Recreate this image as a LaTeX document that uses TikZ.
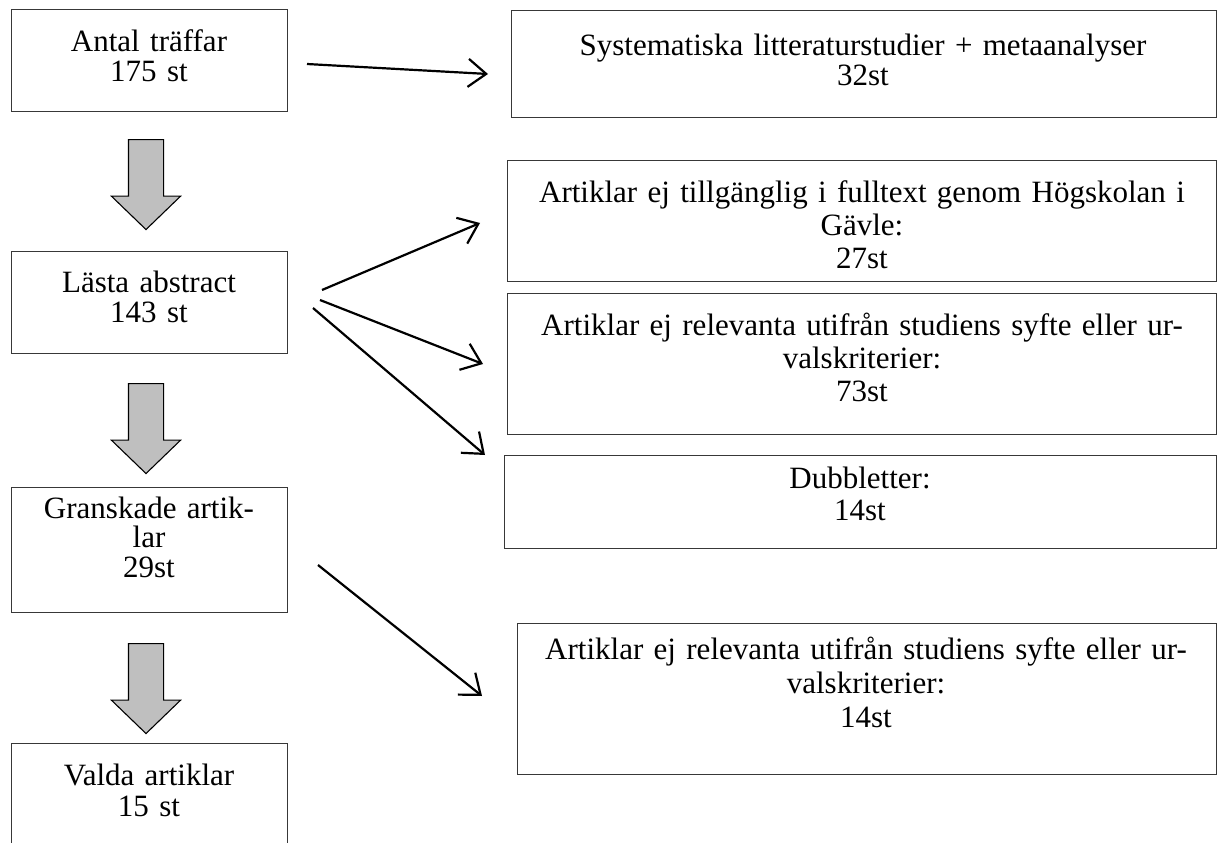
\documentclass[tikz,border=0pt]{standalone}
\usepackage{fontspec}
\setmainfont{Liberation Serif}
\usetikzlibrary{arrows.meta,shapes.arrows}
\begin{document}
\begin{tikzpicture}[x=1pt,y=-1pt,
  box/.style={draw=black!78, line width=1.3pt, rectangle, inner sep=0pt, anchor=north west},
  ltxt/.style={anchor=base, align=center, inner sep=0pt, text width=276pt, font=\fontsize{31}{#1}\selectfont},
  rtxt/.style={anchor=base, align=center, inner sep=0pt, text width=705pt, font=\fontsize{31}{#1}\selectfont},
  flow/.style={draw=black, line width=2.2pt, -{Straight Barb[length=18pt,width=28pt]}},
  blockarrow/.style={single arrow, draw=black, line width=1.1pt, fill=black!25, rotate=-90,
    minimum height=90pt, single arrow head extend=17pt, single arrow tip angle=92,
    single arrow head indent=0pt, inner sep=17pt, anchor=tail}
]
\clip (0,0) rectangle (1219,843);
% left column boxes
\node[box, minimum width=276pt, minimum height=102pt] (A) at (11,9) {};
\node[box, minimum width=276pt, minimum height=102pt] (L) at (11,251) {};
\node[box, minimum width=276pt, minimum height=125pt] (G) at (11,487) {};
\node[box, minimum width=276pt, minimum height=140pt] (V) at (11,743) {};
\node[ltxt=30] (At) at (149,52) {Antal träffar\\175 st};
\node[ltxt=30] (Lt) at (149,292) {Lästa abstract\\143 st};
\node[ltxt=29.5] (Gt) at (149,518) {Granskade artik-\\lar\\29st};
\node[ltxt=31] (Vt) at (149,785) {Valda artiklar\\15 st};
% block arrows
\node[blockarrow] (ba1) at (146,139) {};
\node[blockarrow] (ba2) at (146,383) {};
\node[blockarrow] (ba3) at (146,643) {};
% right column boxes
\node[box, minimum width=705pt, minimum height=107pt] (B) at (511,10) {};
\node[box, minimum width=709pt, minimum height=121pt] (C) at (507,160) {};
\node[box, minimum width=709pt, minimum height=141pt] (D) at (507,293) {};
\node[box, minimum width=712pt, minimum height=93pt] (E) at (504,455) {};
\node[box, minimum width=699pt, minimum height=151pt] (F) at (517,623) {};
\node[rtxt=30] (Bt) at (863,56) {Systematiska litteraturstudier + metaanalyser\\32st};
\node[rtxt=33] (Ct) at (862,202) {Artiklar ej tillgänglig i fulltext genom Högskolan i\\Gävle:\\27st};
\node[rtxt=33] (Dt) at (862,335) {Artiklar ej relevanta utifrån studiens syfte eller ur-\\valskriterier:\\73st};
\node[rtxt=32] (Et) at (860,488) {Dubbletter:\\14st};
\node[rtxt=34] (Ft) at (866,659) {Artiklar ej relevanta utifrån studiens syfte eller ur-\\valskriterier:\\14st};
% connector end points
\coordinate (s1) at (307,64);  \coordinate (e1) at (488,74);
\coordinate (s2) at (322,290); \coordinate (e2) at (480,223);
\coordinate (s3) at (320,300); \coordinate (e3) at (483,364);
\coordinate (s4) at (313,308); \coordinate (e4) at (485,455);
\coordinate (s5) at (318,565); \coordinate (e5) at (482,696);
\draw[flow] (s1) -- (e1);
\draw[flow] (s2) -- (e2);
\draw[flow] (s3) -- (e3);
\draw[flow] (s4) -- (e4);
\draw[flow] (s5) -- (e5);
\end{tikzpicture}
\end{document}
